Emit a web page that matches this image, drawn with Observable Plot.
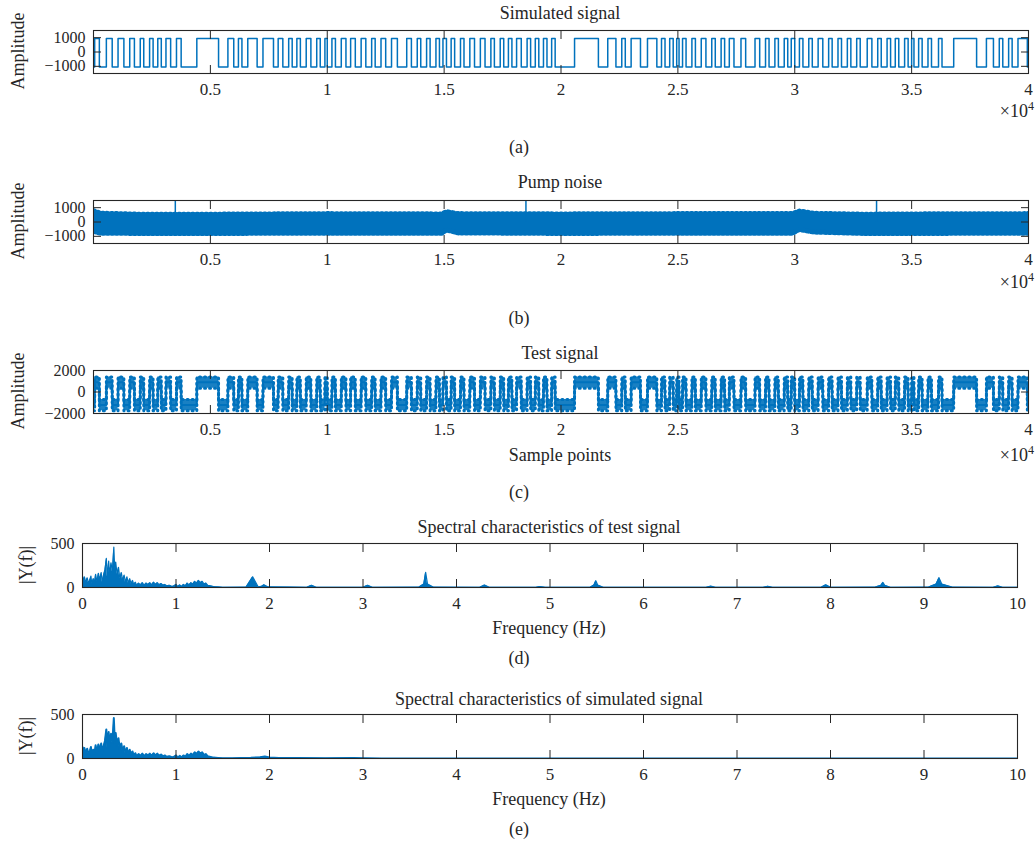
<!DOCTYPE html>
<html><head><meta charset="utf-8">
<script src="https://cdn.jsdelivr.net/npm/d3@7"></script>
<script src="https://cdn.jsdelivr.net/npm/@observablehq/plot@0.6"></script>
<style>
body{margin:0;background:#fff;}
#root{position:relative;width:1036px;height:852px;font-family:"Liberation Serif",serif;color:#262626;overflow:hidden;}
.t{position:absolute;white-space:nowrap;font-size:18px;line-height:1;transform:translate(-50%,-50%);}
.r{position:absolute;white-space:nowrap;font-size:18px;line-height:1;transform:translate(-100%,-50%);}
.yl{position:absolute;white-space:nowrap;font-size:18px;line-height:1;transform:translate(-50%,-50%) rotate(-90deg);}
sup{font-size:12px;vertical-align:7px;line-height:0;}
</style></head><body><div id="root"></div>
<script>
// ---------- data (x in units of 10^4 sample points) ----------
const sampleTicks = [0.5, 1, 1.5, 2, 2.5, 3, 3.5, 4];
const freqTicks = [0, 1, 2, 3, 4, 5, 6, 7, 8, 9, 10];
const ampTicks = [-1000, 0, 1000];
const testTicks = [-2000, 0, 2000];
const specTicks = [0, 500];

// simulated square signal: rising / falling edges
const simRise = [0.005,0.055,0.105,0.155,0.2,0.24,0.275,0.31,0.355,0.442, 0.575,0.62,0.66,0.725,0.79,0.835,0.87,0.91,0.955,0.99, 1.02,1.06,1.1,1.145,1.19,1.23,1.275,1.34,1.385,1.425,1.465,1.495, 1.53,1.57,1.61,1.655,1.7,1.74,1.775,1.81,1.855,1.89,1.925,1.96, 2.058,2.2,2.26,2.3,2.37,2.43,2.465,2.495, 2.52,2.56,2.6,2.645,2.685,2.72,2.77,2.83,2.875,2.915,2.955,2.985, 3.02,3.06,3.1,3.145,3.185,3.225,3.265,3.31,3.355,3.395,3.43,3.47,3.5, 3.53,3.57,3.615,3.68,3.82,3.875,3.915,3.955];
const simFall = [0.025,0.08,0.13,0.175,0.215,0.255,0.29,0.33,0.375,0.535, 0.6,0.635,0.7,0.77,0.81,0.85,0.885,0.93,0.97,1.0, 1.035,1.08,1.12,1.165,1.205,1.25,1.3,1.36,1.4,1.44,1.48,1.51, 1.545,1.585,1.63,1.675,1.715,1.755,1.79,1.83,1.87,1.905,1.94,1.975, 2.16,2.235,2.275,2.34,2.41,2.445,2.48,2.505, 2.535,2.575,2.62,2.66,2.7,2.74,2.79,2.85,2.89,2.93,2.97,3.0, 3.035,3.075,3.12,3.16,3.2,3.24,3.28,3.33,3.37,3.41,3.445,3.485,3.51, 3.545,3.585,3.63,3.778,3.85,3.89,3.93,3.995];
const simLevels = [-1050, 950];           // low, high

// pump noise envelope
const noiseX  = [0, 0.03, 0.2, 0.5, 1.0, 1.49, 1.51, 1.56, 2.0, 2.5, 2.99, 3.02, 3.08, 3.3, 3.5, 4.0];
const noiseHi = [820, 650, 580, 580, 620, 600, 760, 620, 600, 620, 620, 800, 640, 580, 600, 620];
const noiseLo = [-650, -780, -800, -800, -780, -780, -560, -760, -800, -780, -780, -520, -700, -800, -800, -780];
const spikeX = [0.35, 1.85, 3.35];
const spikeY = [1550, 1550, 1550];

// test signal bands (low state, high state)
const testLowBand = [-1750, -700];
const testHighBand = [350, 1400];
const testLevels = [-1200, 900];

// spectra
const lowF = [0,0.01,0.02,0.035,0.05,0.065,0.08,0.09,0.1,0.115,0.13,0.14,0.155,0.17,0.185,0.2,0.21,0.225,0.24,0.255,0.265,0.28,0.29,0.305,0.32,0.335,0.345,0.355,0.37,0.385,0.4,0.415,0.43,0.445,0.46,0.475,0.49,0.505,0.52,0.535,0.55,0.565,0.58,0.6,0.62,0.64,0.66,0.68,0.7,0.72,0.74,0.76,0.78,0.8,0.82,0.84,0.86,0.88,0.9,0.93,0.96,0.98,1.0,1.02,1.04,1.06,1.08,1.1,1.12,1.14,1.16,1.18,1.2,1.22,1.24,1.26,1.28,1.3,1.32,1.34,1.37,1.4,1.45,1.5];
const lowA = [130,70,120,60,110,50,90,130,40,100,60,150,70,160,90,170,60,140,200,330,120,300,150,280,180,460,200,290,150,230,100,170,80,140,60,120,50,100,40,80,30,60,25,50,30,55,25,50,35,55,30,60,35,55,30,45,25,35,20,25,12,20,35,10,30,12,35,20,50,30,55,40,70,50,80,55,70,40,50,25,18,10,6,3];
const dHighF = [1.75,1.82,1.88,1.92,1.94,1.98,2.4,2.45,2.5,3.0,3.05,3.1,3.6,3.65,3.67,3.69,3.75,4.25,4.3,4.35,4.85,4.89,4.95,5.43,5.47,5.49,5.51,5.57,6.67,6.72,6.77,7.28,7.33,7.38,7.9,7.95,8.0,8.48,8.54,8.56,8.58,8.64,9.05,9.13,9.16,9.19,9.3,9.74,9.79,9.84,10];
const dHighA = [5,122,5,15,30,8,3,25,3,3,25,3,5,40,172,40,5,3,28,3,3,10,3,3,28,77,28,3,3,15,3,3,14,3,3,30,3,5,25,58,25,3,5,40,112,40,5,3,18,3,3];
const eHighF = [1.6,1.8,1.9,1.95,2.0,2.1,2.3,2.6,2.9,3.0,3.2,10];
const eHighA = [3,8,15,22,12,6,5,4,5,3,1,1];

// ---------- helpers ----------
const BLUE = "#0072BD", INK = "#262626";
const fmt = d => d < 0 ? "\u2212" + Math.abs(d) : String(d);
const root = document.getElementById("root");
function text(html, x, y, cls = "t") {
  const el = document.createElement("div");
  el.className = cls; el.innerHTML = html;
  el.style.left = x + "px"; el.style.top = y + "px";
  root.appendChild(el);
}
function panel({top, bottom, left, right, xDomain, yDomain, xTicks, xLabels, yTicks, marks}) {
  const mt = 6, mb = 34;
  const svg = Plot.plot({
    width: 1036, height: (bottom - top) + mt + mb,
    marginTop: mt, marginBottom: mb, marginLeft: left, marginRight: right,
    x: {domain: xDomain}, y: {domain: yDomain},
    style: {fontFamily: "'Liberation Serif', serif", fontSize: "17px", color: INK, background: "transparent", overflow: "visible"},
    marks: [
      ...marks,
      Plot.frame({stroke: INK, strokeWidth: 1.1}),
      Plot.axisX({ticks: xTicks, anchor: "bottom", tickSize: -8, tickFormat: () => "", label: null, stroke: INK}),
      Plot.axisX({ticks: xTicks, anchor: "top", tickSize: -8, tickFormat: () => "", label: null, stroke: INK}),
      Plot.axisY({ticks: yTicks, anchor: "left", tickSize: -8, tickFormat: () => "", label: null, stroke: INK}),
      Plot.axisY({ticks: yTicks, anchor: "right", tickSize: -8, tickFormat: () => "", label: null, stroke: INK}),
      Plot.axisX({ticks: xLabels, anchor: "bottom", tickSize: 0, tickPadding: 9, tickFormat: fmt, label: null, fill: INK}),
      Plot.axisY({ticks: yTicks, anchor: "left", tickSize: 0, tickPadding: 8, tickFormat: fmt, label: null, fill: INK, fontSize: 16})
    ]
  });
  svg.style.position = "absolute";
  svg.style.left = "0px";
  svg.style.top = (top - mt) + "px";
  root.appendChild(svg);
}
function squarePoints(lo, hi) {
  const pts = [{x: 0, y: lo}];
  simRise.forEach((r, i) => { pts.push({x: r, y: hi}); pts.push({x: simFall[i], y: lo}); });
  pts.push({x: 4, y: lo});
  return pts;
}
function bandPoints(loBand, hiBand) {
  const pts = [{x: 0, y1: loBand[0], y2: loBand[1]}];
  simRise.forEach((r, i) => {
    pts.push({x: r, y1: hiBand[0], y2: hiBand[1]});
    pts.push({x: simFall[i], y1: loBand[0], y2: loBand[1]});
  });
  pts.push({x: 4, y1: loBand[0], y2: loBand[1]});
  return pts;
}

// ---------- panel (a) ----------
panel({top: 30, bottom: 73, left: 93, right: 8, xDomain: [0, 4], yDomain: [-1500, 1500],
  xTicks: sampleTicks, xLabels: sampleTicks, yTicks: ampTicks,
  marks: [Plot.line(squarePoints(simLevels[0], simLevels[1]), {x: "x", y: "y", curve: "step-after", stroke: BLUE, strokeWidth: 1.5, clip: true})]});
text("Simulated signal", 560, 13);
text("Amplitude", 18, 51, "yl");
text("\u00d710<sup>4</sup>", 1034, 111, "r");
text("(a)", 519, 147);

// ---------- panel (b) ----------
const noise = noiseX.map((x, i) => ({x, y1: noiseLo[i], y2: noiseHi[i]}));
const spikes = spikeX.map((x, i) => ({x, y: spikeY[i]}));
panel({top: 200, bottom: 243, left: 93, right: 8, xDomain: [0, 4], yDomain: [-1500, 1500],
  xTicks: sampleTicks, xLabels: sampleTicks, yTicks: ampTicks,
  marks: [
    Plot.areaY(noise, {x: "x", y1: "y1", y2: "y2", fill: BLUE, clip: true}),
    Plot.line(noise, {x: "x", y: "y2", stroke: BLUE, strokeWidth: 4, strokeDasharray: "1.5 3", clip: true}),
    Plot.line(noise, {x: "x", y: "y1", stroke: BLUE, strokeWidth: 5, strokeDasharray: "2 2.5", clip: true}),
    Plot.ruleX(spikes, {x: "x", y1: 0, y2: "y", stroke: BLUE, strokeWidth: 1.5, clip: true})
  ]});
text("Pump noise", 560, 182);
text("Amplitude", 18, 221, "yl");
text("\u00d710<sup>4</sup>", 1034, 282, "r");
text("(b)", 519, 318);

// ---------- panel (c) ----------
const band = bandPoints(testLowBand, testHighBand);
panel({top: 370, bottom: 413, left: 93, right: 8, xDomain: [0, 4], yDomain: [-2000, 2000],
  xTicks: sampleTicks, xLabels: sampleTicks, yTicks: testTicks,
  marks: [
    Plot.areaY(band, {x: "x", y1: "y1", y2: "y2", curve: "step-after", fill: BLUE, fillOpacity: 0.9, clip: true}),
    Plot.line(band, {x: "x", y: "y2", curve: "step-after", stroke: BLUE, strokeWidth: 3, strokeDasharray: "1 4", clip: true}),
    Plot.line(band, {x: "x", y: "y1", curve: "step-after", stroke: BLUE, strokeWidth: 3, strokeDasharray: "1 4", clip: true}),
    Plot.line(squarePoints(testLevels[0], testLevels[1]), {x: "x", y: "y", curve: "step-after", stroke: BLUE, strokeWidth: 2, clip: true})
  ]});
text("Test signal", 560, 353);
text("Amplitude", 18, 391, "yl");
text("Sample points", 560, 455);
text("\u00d710<sup>4</sup>", 1034, 455, "r");
text("(c)", 519, 492);

// ---------- panel (d) ----------
const dF = lowF.concat(dHighF), dA = lowA.concat(dHighA);
const specD = dF.map((f, i) => ({f, a: dA[i]}));
panel({top: 543, bottom: 587, left: 82, right: 19, xDomain: [0, 10], yDomain: [0, 500],
  xTicks: freqTicks, xLabels: freqTicks, yTicks: specTicks,
  marks: [
    Plot.areaY(specD, {x: "f", y: "a", fill: BLUE, clip: true}),
    Plot.line(specD, {x: "f", y: "a", stroke: BLUE, strokeWidth: 1.2, clip: true})
  ]});
text("Spectral characteristics of test signal", 549, 527);
text("|Y(f)|", 26, 565, "yl");
text("Frequency (Hz)", 549, 628);
text("(d)", 519, 658);

// ---------- panel (e) ----------
const eF = lowF.concat(eHighF), eA = lowA.concat(eHighA);
const specE = eF.map((f, i) => ({f, a: eA[i]}));
panel({top: 714, bottom: 758, left: 82, right: 19, xDomain: [0, 10], yDomain: [0, 500],
  xTicks: freqTicks, xLabels: freqTicks, yTicks: specTicks,
  marks: [
    Plot.areaY(specE, {x: "f", y: "a", fill: BLUE, clip: true}),
    Plot.line(specE, {x: "f", y: "a", stroke: BLUE, strokeWidth: 2, clip: true})
  ]});
text("Spectral characteristics of simulated signal", 549, 699);
text("|Y(f)|", 26, 736, "yl");
text("Frequency (Hz)", 549, 799);
text("(e)", 519, 829);
</script></body></html>
